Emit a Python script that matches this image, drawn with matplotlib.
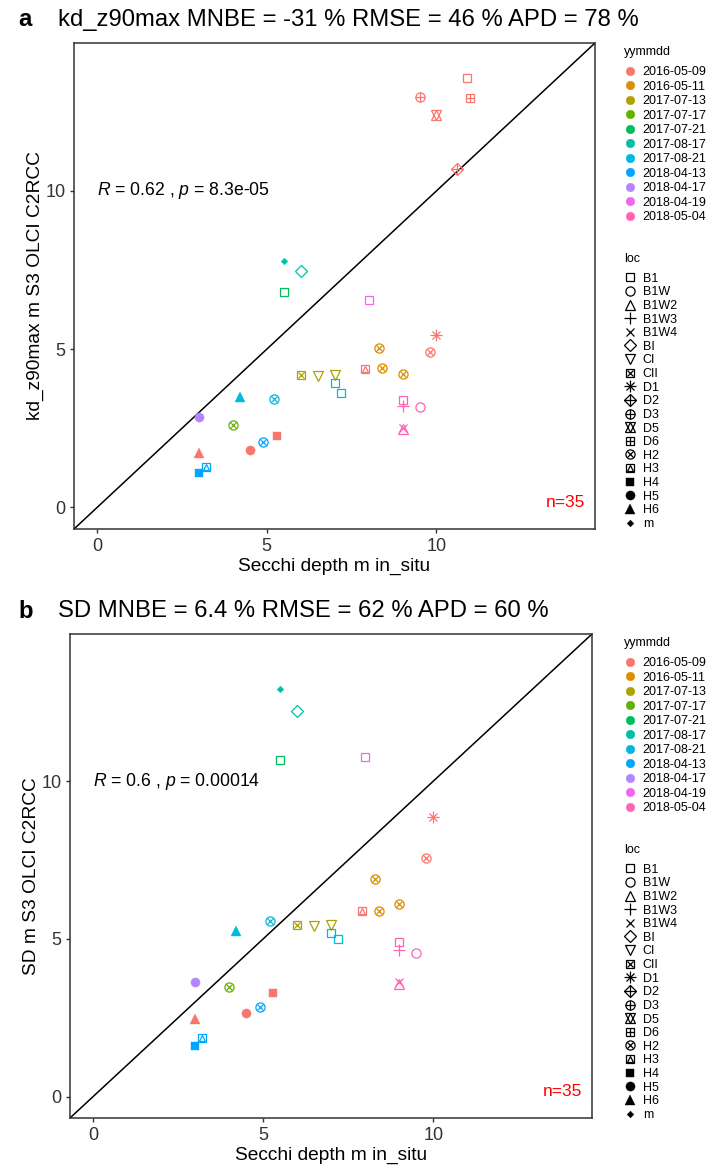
import numpy as np
import matplotlib.pyplot as plt
from matplotlib.lines import Line2D

plt.rcParams['font.family'] = ['Liberation Sans', 'DejaVu Sans']
plt.rcParams['mathtext.fontset'] = 'custom'
plt.rcParams['mathtext.rm'] = 'Liberation Sans'
plt.rcParams['mathtext.it'] = 'Liberation Sans:italic'

# matchups: in-situ Secchi depth vs. S3 OLCI C2RCC estimates
secchi = [3.0, 3.0, 3.0, 3.2, 4.2, 4.0, 4.5, 4.9, 5.3, 5.2,
          6.0, 6.5, 7.0, 7.0, 7.2, 5.5, 6.0, 5.5, 10.9, 9.5,
          11.0, 10.0, 10.6, 8.0, 10.0, 8.3, 9.8, 7.9, 8.4, 9.0,
          9.0, 9.0, 9.5, 9.0, 9.0]
kd_z90max = [2.85, 1.71, 1.08, 1.27, 3.48, 2.61, 1.82, 2.07, 2.27, 3.42,
             4.17, 4.14, 4.17, 3.92, 3.61, 7.78, 7.46, 6.79, 13.58, 12.96,
             12.92, 12.40, 10.70, 6.54, 5.46, 5.04, 4.90, 4.37, 4.40, 4.23,
             3.38, 3.22, 3.16, 2.48, 2.50]
# SD estimates; nan where the value lies above the plotted range
sd_olci = [3.63, 2.47, 1.60, 1.85, 5.24, 3.49, 2.65, 2.85, 3.27, 5.58,
           5.43, 5.40, 5.43, 5.20, 5.00, 12.92, 12.24, 10.68, np.nan, np.nan,
           np.nan, np.nan, np.nan, 10.76, 8.87, 6.89, 7.56, 5.89, 5.89, 6.10,
           4.90, 4.64, 4.54, 3.58, 3.62]
yymmdd = ['2018-04-17', '2016-05-09', '2018-04-13', '2018-04-13', '2017-08-21',
          '2017-07-17', '2016-05-09', '2018-04-13', '2016-05-09', '2017-08-21',
          '2017-07-13', '2017-07-13', '2017-07-13', '2017-08-21', '2017-08-21',
          '2017-08-17', '2017-08-17', '2017-07-21', '2016-05-09', '2016-05-09',
          '2016-05-09', '2016-05-09', '2016-05-09', '2018-04-19', '2016-05-09',
          '2016-05-11', '2016-05-09', '2016-05-09', '2016-05-11', '2016-05-11',
          '2018-05-04', '2018-05-04', '2018-05-04', '2018-05-04', '2018-05-04']
loc = ['H5', 'H6', 'H4', 'H3', 'H6', 'H2', 'H5', 'H2', 'H4', 'H2',
       'CII', 'CI', 'CI', 'B1', 'B1', 'm', 'BI', 'B1', 'B1', 'D3',
       'D6', 'D5', 'D2', 'B1', 'D1', 'H2', 'H2', 'H3', 'H2', 'H2',
       'B1', 'B1W3', 'B1W', 'B1W2', 'B1W4']

date_levels = ['2016-05-09', '2016-05-11', '2017-07-13', '2017-07-17', '2017-07-21',
               '2017-08-17', '2017-08-21', '2018-04-13', '2018-04-17', '2018-04-19',
               '2018-05-04']
date_colors = ['#F8766D', '#DB8E00', '#AEA200', '#64B200', '#00BD5C', '#00C1A7',
               '#00BADE', '#00A6FF', '#B385FF', '#EF67EB', '#FF63B6']
loc_levels = ['B1', 'B1W', 'B1W2', 'B1W3', 'B1W4', 'BI', 'CI', 'CII', 'D1', 'D2',
              'D3', 'D5', 'D6', 'H2', 'H3', 'H4', 'H5', 'H6', 'm']

panels = [
    ('a', 'kd_z90max MNBE = -31 % RMSE = 46 % APD = 78 %', kd_z90max,
     'kd_z90max m S3 OLCI C2RCC', r'$\mathit{R}$ = 0.62 , $\mathit{p}$ = 8.3e-05'),
    ('b', 'SD MNBE = 6.4 % RMSE = 62 % APD = 60 %', sd_olci,
     'SD m S3 OLCI C2RCC', r'$\mathit{R}$ = 0.6 , $\mathit{p}$ = 0.00014'),
]
n_label = 'n=35'

# ggplot-like shapes built from stacked matplotlib markers: (marker, size, filled)
shapes = {
    'B1': [('s', 6.2, False)],
    'B1W': [('o', 6.6, False)],
    'B1W2': [('^', 6.8, False)],
    'B1W3': [('+', 8.5, None)],
    'B1W4': [('x', 6.0, None)],
    'BI': [('D', 6.0, False)],
    'CI': [('v', 6.8, False)],
    'CII': [('s', 6.2, False), ('x', 5.0, None)],
    'D1': [('+', 8.5, None), ('x', 6.2, None)],
    'D2': [('D', 6.0, False), ('+', 8.4, None)],
    'D3': [('o', 6.6, False), ('+', 6.6, None)],
    'D5': [('^', 6.8, False), ('v', 6.8, False)],
    'D6': [('s', 6.2, False), ('+', 6.2, None)],
    'H2': [('o', 6.6, False), ('x', 4.6, None)],
    'H3': [('s', 6.2, False), ('^', 4.6, False)],
    'H4': [('s', 6.0, True)],
    'H5': [('o', 6.6, True)],
    'H6': [('^', 7.2, True)],
    'm': [('D', 3.4, True)],
}


def marker_kw(marker, size, filled, color):
    kw = dict(marker=marker, markersize=size, linestyle='none', markeredgecolor=color)
    if filled is None:
        kw['markeredgewidth'] = 0.9
    elif filled:
        kw['markerfacecolor'] = color
        kw['markeredgewidth'] = 0.3
    else:
        kw['markerfacecolor'] = 'none'
        kw['markeredgewidth'] = 0.9
    return kw


W, H = 710, 1174
lims = (-0.68, 14.67)
axes_px = [(74, 595, 43, 529), (70, 592, 634, 1118)]
ink = '#333333'
leg_fs = 9

fig = plt.figure(figsize=(W / 100, H / 100), dpi=100)

for (tag, title, sat, ylab, rtxt), (l, r, t, b) in zip(panels, axes_px):
    ax = fig.add_axes([l / W, 1 - b / H, (r - l) / W, (b - t) / H])
    ax.plot(lims, lims, color='black', linewidth=1.1, zorder=1)

    colour_of = dict(zip(date_levels, date_colors))
    for xi, yi, d, s in zip(secchi, sat, yymmdd, loc):
        if np.isnan(yi):
            continue
        for mk, ms, fl in shapes[s]:
            ax.plot([xi], [yi], **marker_kw(mk, ms, fl, colour_of[d]), zorder=3)

    ax.text(0, 10, rtxt, fontsize=12.7, ha='left', va='center')
    ax.text(13.8, 0.15, n_label, color='red', fontsize=12.5, ha='center', va='center')

    ax.set_xlim(lims)
    ax.set_ylim(lims)
    ax.set_xticks([0, 5, 10])
    ax.set_yticks([0, 5, 10])
    for sp in ax.spines.values():
        sp.set_color(ink)
        sp.set_linewidth(1.1)
    ax.tick_params(direction='out', length=3.2, width=1.0, color=ink,
                   labelsize=13, labelcolor=ink, pad=3)
    ax.set_xlabel('Secchi depth m in_situ', fontsize=13.8, labelpad=2)
    ax.set_ylabel(ylab, fontsize=13.8, labelpad=1)

    fig.text(58 / W, 1 - (t - 23) / H, title, fontsize=17.2, ha='left', va='center')
    fig.text(18 / W, 1 - (t - 23) / H, tag, fontsize=17.2, fontweight='bold',
             ha='left', va='center')

    # colour legend
    date_handles = [Line2D([], [], **marker_kw('o', 6.2, True, c)) for c in date_colors]
    leg = fig.legend(date_handles, date_levels, title='yymmdd', loc='upper left',
                     bbox_to_anchor=(624 / W, 1 - (t + 3) / H),
                     frameon=False, fontsize=leg_fs, title_fontsize=leg_fs,
                     alignment='left', borderpad=0, borderaxespad=0,
                     handlelength=1.0, handletextpad=0.5, labelspacing=0.2)
    leg._legend_box.sep = 5.9  # gap under the legend title, points

    # shape legend
    loc_handles = []
    for s in loc_levels:
        parts = tuple(Line2D([], [], **marker_kw(mk, ms, fl, 'black'))
                      for mk, ms, fl in shapes[s])
        loc_handles.append(parts)
    leg = fig.legend(loc_handles, loc_levels, title='loc', loc='upper left',
                     bbox_to_anchor=(624 / W, 1 - (t + 210) / H),
                     frameon=False, fontsize=leg_fs, title_fontsize=leg_fs,
                     alignment='left', borderpad=0, borderaxespad=0,
                     handlelength=1.0, handletextpad=0.5, labelspacing=0.13)
    leg._legend_box.sep = 5.5

fig.savefig('out.png', dpi=100)
